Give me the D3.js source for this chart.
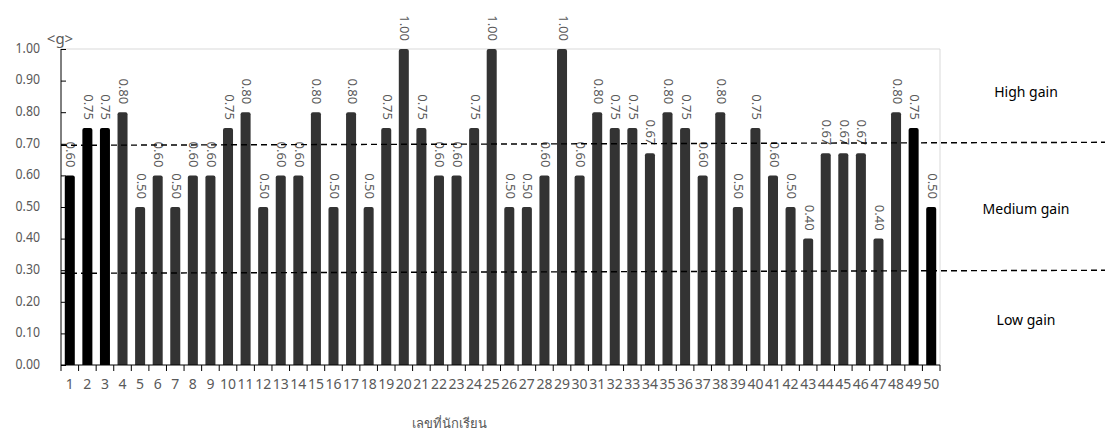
<!DOCTYPE html>
<html><head><meta charset="utf-8">
<script src="https://cdn.jsdelivr.net/npm/d3@7"></script>
<style>body{margin:0;background:#fff;}svg{display:block;font-family:"Noto Sans","DejaVu Sans",sans-serif;}</style>
</head><body>
<svg id="c" width="1108" height="434"></svg>
<script>
const students = d3.range(1, 51).map(String);
const gains = [0.60,0.75,0.75,0.80,0.50,0.60,0.50,0.60,0.60,0.75,
               0.80,0.50,0.60,0.60,0.80,0.50,0.80,0.50,0.75,1.00,
               0.75,0.60,0.60,0.75,1.00,0.50,0.50,0.60,1.00,0.60,
               0.80,0.75,0.75,0.67,0.80,0.75,0.60,0.80,0.50,0.75,
               0.60,0.50,0.40,0.67,0.67,0.67,0.40,0.80,0.75,0.50];
const yTicks = [0,0.1,0.2,0.3,0.4,0.5,0.6,0.7,0.8,0.9,1.0];
const thresholds = [0.70, 0.295];
const zoneLabels = ["High gain","Medium gain","Low gain"];
const zoneValues = [0.86, 0.49, 0.14];
const highlighted = ["1","2","3","49","50"];
const yTitle = "<g>";
const xTitle = "เลขที่นักเรียน";

const svg = d3.select("#c");
const L = 61, R = 940, T = 49, B = 365;
const x = d3.scaleBand().domain(students).range([L, R]).paddingInner(0.43).paddingOuter(0.215);
const xb = d3.scaleBand().domain(students).range([L, R]);
const y = d3.scaleLinear().domain([0, 1]).range([B, T]);
const grey = "#595959";

// plot frame (top gridline & right edge)
svg.append("line").attr("x1", L).attr("x2", R).attr("y1", y(1)).attr("y2", y(1)).attr("stroke", "#d9d9d9");
svg.append("line").attr("x1", R).attr("x2", R).attr("y1", y(1)).attr("y2", B).attr("stroke", "#d9d9d9");

// bars with rounded tops
const r = 2;
svg.append("g").selectAll("path").data(gains).join("path")
  .attr("fill", (d, i) => highlighted.includes(students[i]) ? "#000" : "#333")
  .attr("d", (d, i) => {
    const x0 = x(students[i]), w = x.bandwidth(), yt = y(d);
    return `M${x0},${B}V${yt + r}Q${x0},${yt} ${x0 + r},${yt}H${x0 + w - r}Q${x0 + w},${yt} ${x0 + w},${yt + r}V${B}Z`;
  });

// value labels rotated
svg.append("g").selectAll("text").data(gains).join("text")
  .attr("transform", (d, i) => `translate(${x(students[i]) + x.bandwidth() / 2},${y(d) - 8}) rotate(90)`)
  .attr("text-anchor", "end").attr("dominant-baseline", "middle")
  .attr("font-size", 13).attr("fill", grey)
  .text(d => d3.format(".2f")(d));

// y axis
const ya = svg.append("g").attr("transform", `translate(${L},0)`)
  .call(d3.axisRight(y).tickValues(yTicks).tickSize(5).tickFormat(""));
ya.select(".domain").attr("stroke", "#000").attr("d", `M0,${y(1)}V${B}`);
ya.selectAll(".tick line").attr("stroke", "#000");
svg.append("g").selectAll("text").data(yTicks).join("text")
  .attr("transform", d => `translate(40,${y(d)}) scale(0.88,1)`)
  .attr("text-anchor", "end").attr("dominant-baseline", "middle")
  .attr("font-size", 14).attr("fill", grey).text(d => d3.format(".2f")(d));

// x axis: ticks at band boundaries
const xa = svg.append("g").attr("transform", `translate(0,${B})`);
xa.append("line").attr("x1", L).attr("x2", R).attr("stroke", "#000");
xa.selectAll("line.t").data(students.concat(["end"])).join("line").attr("class", "t")
  .attr("x1", (d, i) => i < students.length ? xb(d) : R)
  .attr("x2", (d, i) => i < students.length ? xb(d) : R)
  .attr("y1", 0).attr("y2", 6).attr("stroke", "#000");
svg.append("g").selectAll("text").data(students).join("text")
  .attr("x", d => x(d) + x.bandwidth() / 2).attr("y", 385)
  .attr("text-anchor", "middle").attr("dominant-baseline", "middle")
  .attr("font-size", 14).attr("fill", grey).text(d => d);

// threshold dashed lines
svg.append("g").selectAll("line").data(thresholds).join("line")
  .attr("x1", L).attr("x2", 1105)
  .attr("y1", d => y(d) + 1.5).attr("y2", d => y(d) - 1.5)
  .attr("stroke", "#000").attr("stroke-width", 1.4).attr("stroke-dasharray", "6,4");

// zone labels
svg.append("g").selectAll("text").data(zoneLabels).join("text")
  .attr("x", 1026).attr("y", (d, i) => y(zoneValues[i]))
  .attr("text-anchor", "middle").attr("dominant-baseline", "middle")
  .attr("font-size", 14).attr("fill", "#000").text(d => d);

// titles
svg.append("text").attr("x", 60).attr("y", 40).attr("text-anchor", "middle").attr("dominant-baseline", "middle")
  .attr("font-size", 15).attr("fill", grey).text(yTitle);
svg.append("text").attr("x", 449).attr("y", 425).attr("text-anchor", "middle").attr("dominant-baseline", "middle")
  .attr("font-size", 13).attr("fill", grey).text(xTitle);
</script>
</body></html>
